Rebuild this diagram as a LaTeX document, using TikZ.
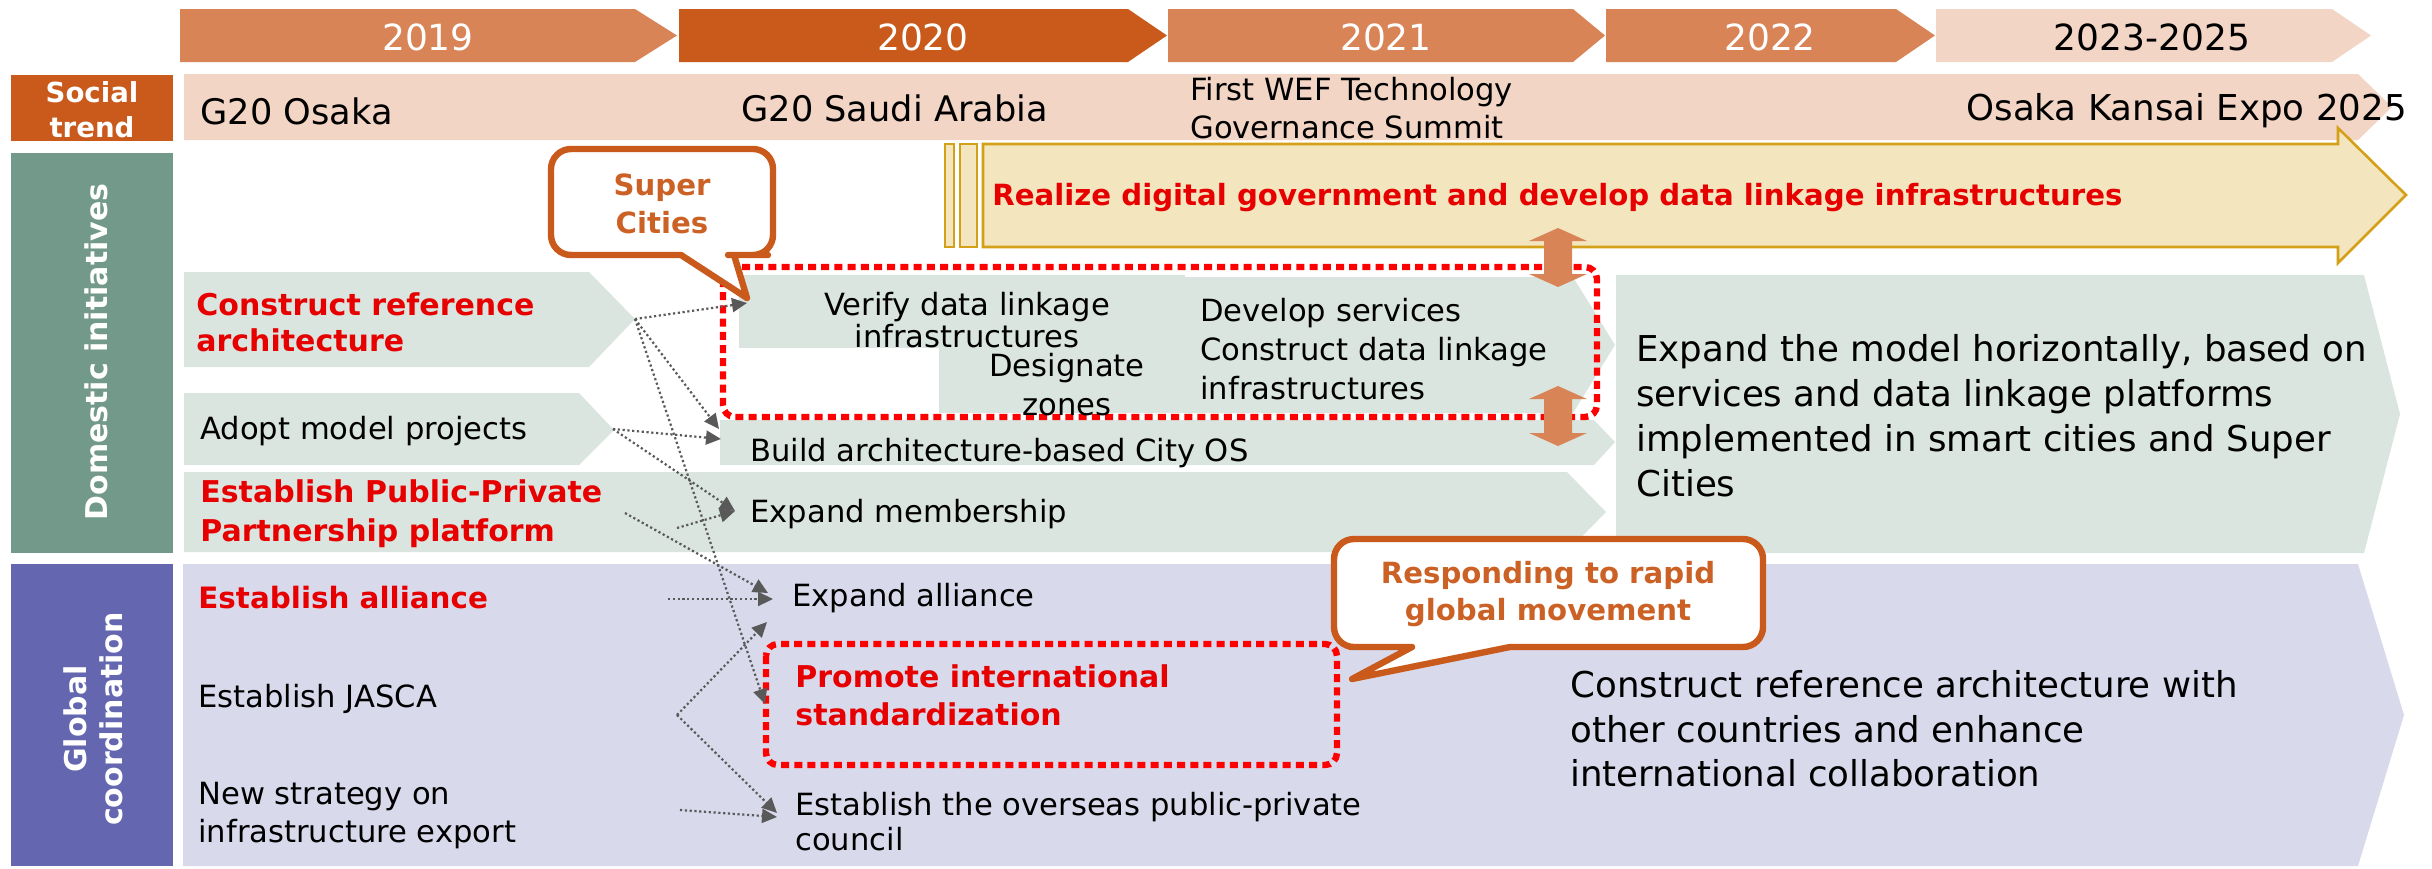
\documentclass[tikz,border=0pt]{standalone}
\usepackage{fontspec}
\setmainfont{DejaVu Sans}
\usetikzlibrary{arrows.meta}
\definecolor{yrlight}{HTML}{D88457}
\definecolor{yrdark}{HTML}{C95A1B}
\definecolor{peach}{HTML}{F2D5C5}
\definecolor{sage}{HTML}{DBE5DF}
\definecolor{lav}{HTML}{D9D9EC}
\definecolor{domgreen}{HTML}{72998A}
\definecolor{globpurple}{HTML}{6466B0}
\definecolor{yelfill}{HTML}{F3E5BE}
\definecolor{yelline}{HTML}{D4A017}
\definecolor{callor}{HTML}{C95A1B}
\definecolor{calltxt}{HTML}{CC6125}
\definecolor{hired}{HTML}{E60000}
\definecolor{dotred}{HTML}{FF0000}
\definecolor{arrgray}{HTML}{595959}
\tikzset{
  fs/.style 2 args={font=\fontsize{#1}{#2}\selectfont},
  fsb/.style 2 args={font=\fontsize{#1}{#2}\selectfont\bfseries},
  txt/.style={inner sep=0pt, align=left, anchor=west, text=black},
  ctxt/.style={inner sep=0pt, align=center, text=black},
  redtxt/.style={inner sep=0pt, align=left, anchor=west, text=hired},
  yeartxt/.style={inner sep=0pt, fs={18}{22}, text=white},
  lbltxt/.style={inner sep=0pt, align=center, text=white},
  callout/.style={fill=white, draw=callor, line width=3.2pt, line join=round},
  calltext/.style={inner sep=0pt, align=center, text=calltxt, fsb={14.6}{18.8}},
  reddot/.style={draw=dotred, line width=3.2pt, dash pattern=on 4pt off 2.6pt, rounded corners=6pt},
  yelbox/.style={fill=yelfill, draw=yelline, line width=1.3pt},
  garrow/.style={draw=arrgray, line width=1.1pt, dash pattern=on 1.1pt off 1.3pt, -{Triangle[length=7.5pt,width=7pt]}},
}
\begin{document}
\begin{tikzpicture}[x=0.5pt,y=-0.5pt]
\useasboundingbox (0,0) rectangle (2432,868);
% ---------- year ribbon
\fill[yrlight] (180,9) -- (635,9) -- (677,35.5) -- (635,62) -- (180,62) -- cycle;
\fill[yrdark]  (679,9) -- (1128,9) -- (1167,35.5) -- (1128,62) -- (679,62) -- cycle;
\fill[yrlight] (1168,9) -- (1573,9) -- (1605,35.5) -- (1573,62) -- (1168,62) -- cycle;
\fill[yrlight] (1606,9) -- (1896,9) -- (1935,35.5) -- (1896,62) -- (1606,62) -- cycle;
\fill[peach]   (1936,9) -- (2332,9) -- (2371,35.5) -- (2332,62) -- (1936,62) -- cycle;
\node[yeartxt] (y19) at (428,37) {2019};
\node[yeartxt] (y20) at (923,37) {2020};
\node[yeartxt] (y21) at (1386,37) {2021};
\node[yeartxt] (y22) at (1770,37) {2022};
\node[yeartxt, text=black] (y23) at (2152,37) {2023-2025};
% ---------- social trend
\fill[yrdark] (11,75) rectangle (173,141);
\node[lbltxt, fsb={13.8}{17.5}] (soclbl) at (92,110) {Social\\trend};
\fill[peach] (184,74) -- (2358,74) -- (2392,107) -- (2358,140) -- (184,140) -- cycle;
\node[txt, fs={17.6}{21}] (g20o) at (200,111) {G20 Osaka};
\node[txt, fs={17.6}{21}] (g20s) at (741,108) {G20 Saudi Arabia};
\node[txt, fs={15.3}{19}] (wef) at (1190,108) {First WEF Technology\\Governance Summit};
\node[txt, anchor=east, fs={17.8}{21}] (expo) at (2407,111) {Osaka Kansai Expo 2025};
% ---------- side labels
\fill[domgreen] (11,153) rectangle (173,553);
\node[lbltxt, fsb={15}{18}, rotate=90] (domlbl) at (96,352) {Domestic initiatives};
\fill[globpurple] (11,564) rectangle (173,866);
\node[lbltxt, fsb={15}{18}, rotate=90] (glolbl) at (93,719) {Global\\coordination};
% ---------- domestic blocks
\fill[sage] (184,272) -- (589,272) -- (635,319) -- (589,367) -- (184,367) -- cycle;
\fill[sage] (184,393) -- (579,393) -- (614,430) -- (579,465) -- (184,465) -- cycle;
\fill[sage] (184,472) -- (1567,472) -- (1606,512) -- (1567,552) -- (184,552) -- cycle;
\fill[sage] (720,420) -- (1594,420) -- (1615,442) -- (1594,465) -- (720,465) -- cycle;
\fill[sage] (739,275) rectangle (1185,348);
\fill[sage] (939,348) rectangle (1185,413);
\fill[sage] (1185,277) -- (1573,277) -- (1615,345) -- (1573,413) -- (1185,413) -- cycle;
\fill[sage] (1616,275) -- (2364,275) -- (2400,414) -- (2364,553) -- (1616,553) -- cycle;
% ---------- global band
\fill[lav] (183,564) -- (2358,564) -- (2404,715) -- (2358,866) -- (183,866) -- cycle;
% ---------- yellow arrow
\filldraw[yelbox] (945,144) rectangle (954,247);
\filldraw[yelbox] (960,144) rectangle (977,247);
\filldraw[yelbox] (983,144) -- (2338,144) -- (2338,128) -- (2406,195) -- (2338,263) -- (2338,247) -- (983,247) -- cycle;
% ---------- red dotted frames
\draw[reddot] (723,267) rectangle (1597,417);
\draw[reddot] (766,644) rectangle (1337,765);
% ---------- orange double arrows
\fill[yrlight] (1558,228) -- (1587,241) -- (1572,241) -- (1572,274) -- (1587,274) -- (1558,287) -- (1529,274) -- (1544,274) -- (1544,241) -- (1529,241) -- cycle;
\fill[yrlight] (1558,386) -- (1587,399) -- (1572,399) -- (1572,433) -- (1587,433) -- (1558,446) -- (1529,433) -- (1544,433) -- (1544,399) -- (1529,399) -- cycle;
% ---------- texts
\node[redtxt, fsb={15}{18}] (constr) at (196,322) {Construct reference\\architecture};
\node[txt, fs={15.3}{19}] (adopt) at (200,431) {Adopt model projects};
\node[redtxt, fsb={15}{19.5}] (ppp) at (200,514) {Establish Public-Private\\Partnership platform};
\node[ctxt, fs={15.3}{16}] (verify) at (967,320) {Verify data linkage\\infrastructures};
\node[ctxt, fs={15.3}{19.5}] (desig) at (1067,385) {Designate\\zones};
\node[txt, fs={15.3}{19.3}] (devel) at (1200,349) {Develop services\\Construct data linkage\\infrastructures};
\node[txt, fs={15.3}{19}] (cityos) at (750,453) {Build architecture-based City OS};
\node[txt, fs={15.3}{19}] (member) at (750,514) {Expand membership};
\node[redtxt, fsb={14.6}{18}] (realize) at (992,198) {Realize digital government and develop data linkage infrastructures};
\node[txt, fs={17.8}{22.5}] (expand) at (1636,416) {Expand the model horizontally, based on\\services and data linkage platforms\\implemented in smart cities and Super\\Cities};
\node[redtxt, fsb={14.7}{18}] (ally) at (198,598) {Establish alliance};
\node[txt, fs={15.3}{19}] (jasca) at (198,699) {Establish JASCA};
\node[txt, fs={15.3}{19}] (newstr) at (198,816) {New strategy on\\infrastructure export};
\node[txt, fs={15.3}{19}] (expally) at (792,598) {Expand alliance};
\node[redtxt, fsb={15}{19}] (promote) at (795,695) {Promote international\\standardization};
\node[txt, fs={15.3}{17.5}] (overseas) at (795,822) {Establish the overseas public-private\\council};
\node[txt, fs={17.8}{22.3}] (collab) at (1570,729) {Construct reference architecture with\\other countries and enhance\\international collaboration};
% ---------- dotted connectors
\coordinate (sC) at (635,319);
\coordinate (sA) at (613,429);
\coordinate (sP1) at (625,513);
\coordinate (sP2) at (677,528);
\coordinate (sG1) at (668,599);
\coordinate (sG2) at (677,715);
\coordinate (sG3) at (680,810);
\coordinate (eVer) at (747,303);
\coordinate (eOS1) at (719,429);
\coordinate (eOS2) at (721,439);
\coordinate (eMem) at (735,511);
\coordinate (ePro) at (765,704);
\coordinate (eAl1) at (768,593);
\coordinate (eAl2) at (773,599);
\coordinate (eAl3) at (767,622);
\coordinate (eCo1) at (777,813);
\coordinate (eCo2) at (777,817);
\draw[garrow] (sC) -- (eVer);
\draw[garrow] (sC) -- (eOS1);
\draw[garrow] (sC) -- (ePro);
\draw[garrow] (sA) -- (eOS2);
\draw[garrow] (sA) -- (eMem);
\draw[garrow] (sP2) -- (eMem);
\draw[garrow] (sP1) -- (eAl1);
\draw[garrow] (sG1) -- (eAl2);
\draw[garrow] (sG2) -- (eAl3);
\draw[garrow] (sG2) -- (eCo1);
\draw[garrow] (sG3) -- (eCo2);
% ---------- callouts
\draw[callout] (681,255) [rounded corners=10pt] -- (551,255) -- (551,149) -- (773,149) -- (773,255) -- (748,255) [sharp corners] -- (734,255) -- (747,298) -- cycle;
\node[calltext] (super) at (662,204) {Super\\Cities};
\draw[callout] (1510,647) [rounded corners=10pt] -- (1763,647) -- (1763,539) -- (1334,539) -- (1334,647) -- (1370,647) [sharp corners] -- (1412,647) -- (1352,679) -- cycle;
\node[calltext] (respond) at (1548,594) {Responding to rapid\\global movement};
\end{tikzpicture}
\end{document}
